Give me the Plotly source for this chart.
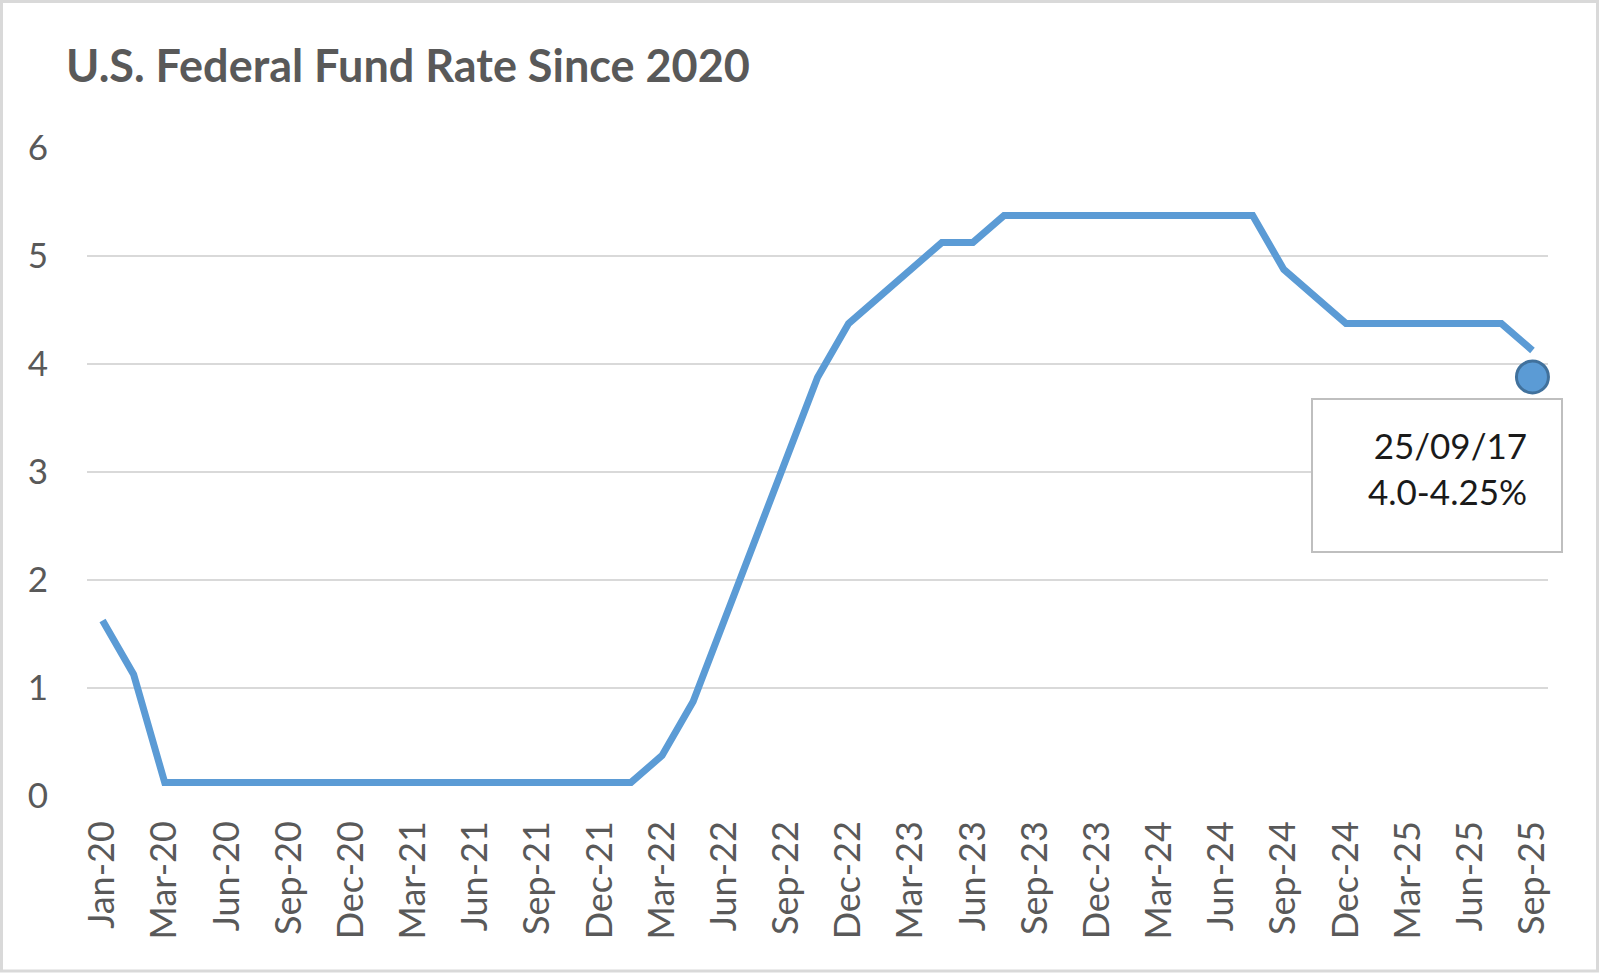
import plotly.graph_objects as go

# ---- data ----
tick_labels = ["Jan-20", "Mar-20", "Jun-20", "Sep-20", "Dec-20", "Mar-21", "Jun-21", "Sep-21",
               "Dec-21", "Mar-22", "Jun-22", "Sep-22", "Dec-22", "Mar-23", "Jun-23", "Sep-23",
               "Dec-23", "Mar-24", "Jun-24", "Sep-24", "Dec-24", "Mar-25", "Jun-25", "Sep-25"]
rate = [1.625, 1.125, 0.125, 0.125, 0.125, 0.125, 0.125, 0.125, 0.125, 0.125,
        0.125, 0.125, 0.125, 0.125, 0.125, 0.125, 0.125, 0.125, 0.375, 0.875,
        1.625, 2.375, 3.125, 3.875, 4.375, 4.625, 4.875, 5.125, 5.125, 5.375,
        5.375, 5.375, 5.375, 5.375, 5.375, 5.375, 5.375, 5.375, 4.875, 4.625,
        4.375, 4.375, 4.375, 4.375, 4.375, 4.375, 4.125]
point_index = list(range(len(rate)))
tick_index = point_index[::2]
marker_value = [3.88]
note_text = "25/09/17<br>4.0-4.25%"
title_text = "U.S. Federal Fund Rate Since 2020"

FONT = "Lato"
W, H = 1600, 973
L, R, T, B = 87, 52, 148, 177
pw, ph = W - L - R, H - T - B

def px(x):
    return (x - L) / pw

def py(y):
    return (H - B - y) / ph

fig = go.Figure()
fig.add_trace(go.Scatter(x=point_index, y=rate, mode="lines",
                         line=dict(color="#5B9BD5", width=7),
                         hoverinfo="skip", showlegend=False))
fig.add_trace(go.Scatter(x=[point_index[-1]], y=marker_value, mode="markers",
                         marker=dict(size=32, color="#5B9BD5",
                                     line=dict(color="#41719C", width=3)),
                         cliponaxis=False, hoverinfo="skip", showlegend=False))

fig.update_layout(
    width=W, height=H,
    margin=dict(l=L, r=R, t=T, b=B),
    paper_bgcolor="white", plot_bgcolor="white",
    showlegend=False,
    xaxis=dict(range=[-0.5, len(rate) - 0.5], tickmode="array",
               tickvals=tick_index, ticktext=tick_labels, tickangle=-90,
               showgrid=False, zeroline=False, showline=False,
               ticks="", ticklabelstandoff=17,
               tickfont=dict(family=FONT, size=36, color="#595959")),
    yaxis=dict(range=[0, 6], tickvals=[0, 1, 2, 3, 4, 5, 6],
               showgrid=True, gridcolor="#D9D9D9", gridwidth=2,
               zeroline=False, showline=False, ticks="",
               ticklabelstandoff=38,
               tickfont=dict(family=FONT, size=35, color="#595959")),
    shapes=[
        dict(type="rect", xref="paper", yref="paper",
             x0=px(1.5), x1=px(W - 2.5), y0=py(H - 2), y1=py(1.5),
             line=dict(color="#D9D9D9", width=3), fillcolor="rgba(0,0,0,0)", layer="below"),
        dict(type="rect", xref="paper", yref="paper",
             x0=px(1312), x1=px(1562), y0=py(552), y1=py(399),
             line=dict(color="#BFBFBF", width=2), fillcolor="white", layer="above"),
    ],
    annotations=[
        dict(text="<b>" + title_text + "</b>", xref="paper", yref="paper",
             x=px(64), y=py(65), xanchor="left", yanchor="middle", showarrow=False,
             font=dict(family=FONT, size=45, color="#595959")),
        dict(text=note_text, xref="paper", yref="paper",
             x=px(1529), y=py(468), xanchor="right", yanchor="middle", align="right",
             showarrow=False, font=dict(family=FONT, size=35, color="#1A1A1A")),
    ],
)

fig.write_html("out.html",
               config={"displayModeBar": False},
               post_script="document.body.style.margin='0';document.body.style.overflow='hidden';")
